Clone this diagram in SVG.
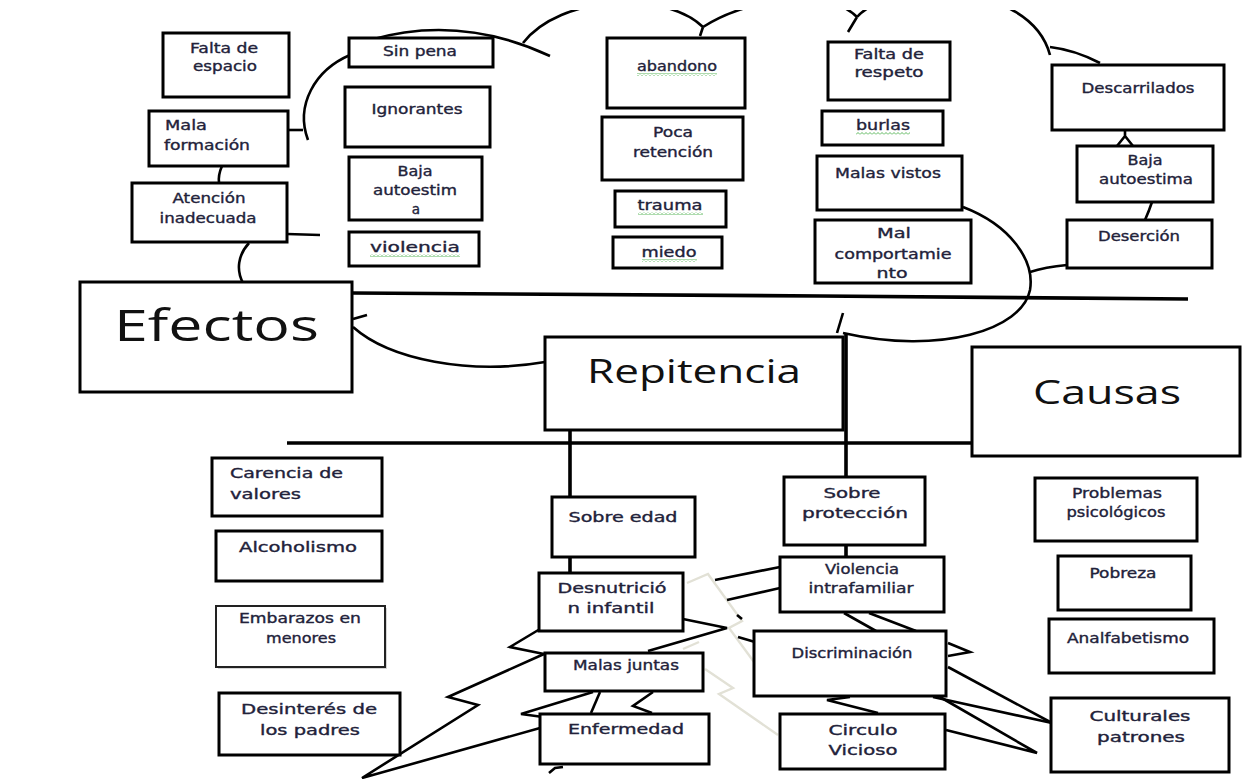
<svg xmlns="http://www.w3.org/2000/svg" width="1244" height="779" viewBox="0 0 1244 779">
<style>
.bx{fill:#fff;stroke:#000;stroke-width:3}
.t{font-family:"DejaVu Sans","Liberation Sans",sans-serif;font-size:13.5px;fill:#22223a;stroke:#22223a;stroke-width:0.35;text-anchor:middle}
.tl{text-anchor:start}
.big{font-family:"Open Sans","Liberation Sans",sans-serif;fill:#111;text-anchor:start}
.ln{fill:none;stroke:#000;stroke-width:2.6;stroke-linejoin:miter}
.hl{fill:none;stroke:#000;stroke-width:3.6}
.pl{fill:none;stroke:#e2e1d6;stroke-width:2.4}
.sq{fill:url(#squig)}
</style>
<defs>
<clipPath id="topclip"><rect x="0" y="10" width="1244" height="769"/></clipPath>
<pattern id="squig" patternUnits="userSpaceOnUse" width="4" height="3">
<path d="M0,2.5 L2,0.5 L4,2.5" fill="none" stroke="#4bb04b" stroke-width="0.9"/>
</pattern>
</defs>
<rect width="1244" height="779" fill="#fff"/>
<g id="connectors">
<g id="cloud" clip-path="url(#topclip)">
<path class="ln" d="M350,55 C315,70 295,105 308,140"/>
<path class="ln" d="M288,130 L303,130"/>
<path class="ln" d="M370,40 Q460,14 550,56"/>
<path class="ln" d="M523,43 C560,-5 665,-10 703,27 M700,36 L703,27"/>
<path class="ln" d="M703,27 C745,0 825,-15 857,17 M848,32 L857,17"/>
<path class="ln" d="M857,17 C890,-20 1030,-20 1050,55"/>
<path class="ln" d="M1050,47 Q1075,50 1100,63"/>
<path class="ln" d="M1117,146 L1125,136 L1133,146 M1125,136 L1125,130"/>
<path class="ln" d="M1152,202 Q1149,211 1145,220"/>
<path class="ln" d="M1067,265 Q1045,267 1030,272"/>
<path class="ln" d="M963,207 C1010,225 1035,260 1030,290 C1022,330 940,355 843,333"/>
<path class="ln" d="M837,333 L843,313"/>
<path class="ln" d="M353,327 C390,360 470,375 545,362"/>
<path class="ln" d="M353,319 L367,315"/>
<path class="ln" d="M249,243 C238,255 236,270 243,283"/>
<path class="ln" d="M222,166 Q218,175 219,183"/>
<path class="ln" d="M287,234 L320,235"/>
</g>
<path class="hl" d="M352,293 L820,296 L1188,299"/>
<path class="hl" d="M287,443 L972,443" stroke-width="4"/>
<path class="hl" d="M846,334 L846,478 M570,430 L570,497 M570,557 L570,573 M846,545 L846,557"/>
<g id="bolt-pale">
<path class="pl" d="M687,583 L708,574 L742,621 L729,628 L754,662"/>
<path class="pl" d="M683,649 L699,642"/>
<path class="pl" d="M705,669 L733,688 L719,694 L778,735"/>
</g>
<g id="bolt-dark">
<path class="ln" d="M540,629 L510,647 L544,654"/>
<path class="ln" d="M544,654 L448,697 L478,705 L362,778 L540,728"/>
<path class="ln" d="M593,692 L521,714 L543,717"/>
<path class="ln" d="M600,692 L591,713"/>
<path class="ln" d="M653,692 L633,706 L652,713"/>
<path class="ln" d="M549,773 L555,768 L563,767"/>
<path class="ln" d="M683,619 L727,628 L648,651"/>
<path class="ln" d="M738,637 L755,642"/>
<path class="ln" d="M715,580 L780,567"/>
<path class="ln" d="M727,600 L780,588"/>
<path class="ln" d="M737,615 L742,619"/>
<path class="ln" d="M844,613 L876,631 M869,613 L916,631"/>
<path class="ln" d="M948,643 L970,652 L948,656"/>
<path class="ln" d="M948,667 L1052,723"/>
<path class="ln" d="M933,697 L1052,723"/>
<path class="ln" d="M940,697 L1037,753 L946,730"/>
<path class="ln" d="M878,713 L827,700 L850,697"/>
</g>
</g>

<g id="n-efectos"><rect class="bx" x="80" y="282" width="272" height="110"/><text class="big" x="114" y="341" font-size="44" textLength="205" lengthAdjust="spacingAndGlyphs">Efectos</text></g>
<g id="n-repitencia"><rect class="bx" x="545" y="337" width="298" height="93"/><text class="big" x="587" y="383" font-size="32" textLength="214" lengthAdjust="spacingAndGlyphs">Repitencia</text></g>
<g id="n-causas"><rect class="bx" x="972" y="347" width="268" height="109"/><text class="big" x="1033" y="404" font-size="32" textLength="148" lengthAdjust="spacingAndGlyphs">Causas</text></g>

<g id="n-falta-espacio"><rect class="bx" x="163" y="33" width="126" height="64"/><text class="t" x="224" y="53" textLength="68" lengthAdjust="spacingAndGlyphs">Falta de</text><text class="t" x="225" y="71" textLength="64" lengthAdjust="spacingAndGlyphs">espacio</text></g>
<g id="n-mala-formacion"><rect class="bx" x="149" y="111" width="139" height="55"/><text class="t tl" x="165" y="130" textLength="42" lengthAdjust="spacingAndGlyphs">Mala</text><text class="t tl" x="164" y="150" textLength="86" lengthAdjust="spacingAndGlyphs">formación</text></g>
<g id="n-atencion"><rect class="bx" x="132" y="183" width="155" height="59"/><text class="t" x="209" y="203" textLength="73" lengthAdjust="spacingAndGlyphs">Atención</text><text class="t" x="208" y="223" textLength="97" lengthAdjust="spacingAndGlyphs">inadecuada</text></g>
<g id="n-sin-pena"><rect class="bx" x="349" y="38" width="144" height="29"/><text class="t" x="420" y="56" textLength="74" lengthAdjust="spacingAndGlyphs">Sin pena</text></g>
<g id="n-ignorantes"><rect class="bx" x="345" y="87" width="145" height="60"/><text class="t" x="417" y="114" textLength="91" lengthAdjust="spacingAndGlyphs">Ignorantes</text></g>
<g id="n-baja-autoestima-1"><rect class="bx" x="349" y="157" width="133" height="63"/><text class="t" x="415" y="176" textLength="35" lengthAdjust="spacingAndGlyphs">Baja</text><text class="t" x="415" y="195" textLength="84" lengthAdjust="spacingAndGlyphs">autoestim</text><text class="t" x="416" y="214">a</text></g>
<g id="n-violencia"><rect class="bx" x="349" y="232" width="130" height="34"/><text class="t" x="415" y="252" textLength="90" lengthAdjust="spacingAndGlyphs">violencia</text><rect class="sq" x="370" y="254" width="90" height="3"/></g>
<g id="n-abandono"><rect class="bx" x="607" y="38" width="138" height="70"/><text class="t" x="677" y="71" textLength="80" lengthAdjust="spacingAndGlyphs">abandono</text><rect class="sq" x="637" y="73" width="80" height="3"/></g>
<g id="n-poca-retencion"><rect class="bx" x="602" y="117" width="141" height="63"/><text class="t" x="673" y="137" textLength="40" lengthAdjust="spacingAndGlyphs">Poca</text><text class="t" x="673" y="157" textLength="80" lengthAdjust="spacingAndGlyphs">retención</text></g>
<g id="n-trauma"><rect class="bx" x="615" y="191" width="111" height="36"/><text class="t" x="670" y="210" textLength="65" lengthAdjust="spacingAndGlyphs">trauma</text><rect class="sq" x="638" y="212" width="65" height="3"/></g>
<g id="n-miedo"><rect class="bx" x="613" y="237" width="109" height="31"/><text class="t" x="669" y="257" textLength="55" lengthAdjust="spacingAndGlyphs">miedo</text><rect class="sq" x="642" y="259" width="55" height="3"/></g>
<g id="n-falta-respeto"><rect class="bx" x="828" y="42" width="122" height="58"/><text class="t" x="889" y="59" textLength="70" lengthAdjust="spacingAndGlyphs">Falta de</text><text class="t" x="889" y="77" textLength="69" lengthAdjust="spacingAndGlyphs">respeto</text></g>
<g id="n-burlas"><rect class="bx" x="822" y="111" width="121" height="34"/><text class="t" x="883" y="130" textLength="54" lengthAdjust="spacingAndGlyphs">burlas</text><rect class="sq" x="856" y="132" width="54" height="3"/></g>
<g id="n-malas-vistos"><rect class="bx" x="817" y="156" width="145" height="54"/><text class="t" x="888" y="178" textLength="106" lengthAdjust="spacingAndGlyphs">Malas vistos</text></g>
<g id="n-mal-comportamiento"><rect class="bx" x="815" y="220" width="156" height="63"/><text class="t" x="894" y="238" textLength="34" lengthAdjust="spacingAndGlyphs">Mal</text><text class="t" x="893" y="259" textLength="117" lengthAdjust="spacingAndGlyphs">comportamie</text><text class="t" x="892" y="278" textLength="31" lengthAdjust="spacingAndGlyphs">nto</text></g>
<g id="n-descarrilados"><rect class="bx" x="1052" y="65" width="172" height="65"/><text class="t" x="1138" y="93" textLength="113" lengthAdjust="spacingAndGlyphs">Descarrilados</text></g>
<g id="n-baja-autoestima-2"><rect class="bx" x="1077" y="146" width="136" height="56"/><text class="t" x="1145" y="165" textLength="35" lengthAdjust="spacingAndGlyphs">Baja</text><text class="t" x="1146" y="184" textLength="94" lengthAdjust="spacingAndGlyphs">autoestima</text></g>
<g id="n-desercion"><rect class="bx" x="1067" y="220" width="145" height="48"/><text class="t" x="1139" y="241" textLength="82" lengthAdjust="spacingAndGlyphs">Deserción</text></g>

<g id="n-carencia"><rect class="bx" x="212" y="458" width="170" height="58"/><text class="t tl" x="230" y="478" textLength="113" lengthAdjust="spacingAndGlyphs">Carencia de</text><text class="t tl" x="230" y="499" textLength="71" lengthAdjust="spacingAndGlyphs">valores</text></g>
<g id="n-alcoholismo"><rect class="bx" x="216" y="531" width="166" height="50"/><text class="t" x="298" y="552" textLength="118" lengthAdjust="spacingAndGlyphs">Alcoholismo</text></g>
<g id="n-embarazos"><rect x="218" y="608" width="169" height="61" fill="#bbb" opacity="0.6"/><rect x="216" y="606" width="169" height="61" fill="#fff" stroke="#222" stroke-width="2"/><text class="t" x="300" y="623" font-size="12.5" textLength="122" lengthAdjust="spacingAndGlyphs">Embarazos en</text><text class="t" x="301" y="643" font-size="12.5" textLength="70" lengthAdjust="spacingAndGlyphs">menores</text></g>
<g id="n-desinteres"><rect class="bx" x="219" y="693" width="181" height="62"/><text class="t" x="309" y="714" textLength="136" lengthAdjust="spacingAndGlyphs">Desinterés de</text><text class="t" x="310" y="735" textLength="100" lengthAdjust="spacingAndGlyphs">los padres</text></g>
<g id="n-sobre-edad"><rect class="bx" x="552" y="497" width="143" height="60"/><text class="t" x="623" y="522" textLength="109" lengthAdjust="spacingAndGlyphs">Sobre edad</text></g>
<g id="n-desnutricion"><rect class="bx" x="539" y="573" width="144" height="58"/><text class="t" x="612" y="593" textLength="109" lengthAdjust="spacingAndGlyphs">Desnutrició</text><text class="t" x="611" y="613" textLength="87" lengthAdjust="spacingAndGlyphs">n infantil</text></g>
<g id="n-malas-juntas"><rect class="bx" x="545" y="653" width="158" height="38"/><text class="t" x="626" y="670" textLength="106" lengthAdjust="spacingAndGlyphs">Malas juntas</text></g>
<g id="n-enfermedad"><rect class="bx" x="540" y="714" width="169" height="50"/><text class="t" x="626" y="734" textLength="116" lengthAdjust="spacingAndGlyphs">Enfermedad</text></g>
<g id="n-sobre-proteccion"><rect class="bx" x="784" y="477" width="141" height="68"/><text class="t" x="852" y="498" textLength="57" lengthAdjust="spacingAndGlyphs">Sobre</text><text class="t" x="855" y="518" textLength="106" lengthAdjust="spacingAndGlyphs">protección</text></g>
<g id="n-violencia-intrafamiliar"><rect class="bx" x="780" y="557" width="164" height="55"/><text class="t" x="862" y="574" textLength="74" lengthAdjust="spacingAndGlyphs">Violencia</text><text class="t" x="861" y="593" textLength="105" lengthAdjust="spacingAndGlyphs">intrafamiliar</text></g>
<g id="n-discriminacion"><rect class="bx" x="754" y="631" width="192" height="65"/><text class="t" x="852" y="658" textLength="121" lengthAdjust="spacingAndGlyphs">Discriminación</text></g>
<g id="n-circulo-vicioso"><rect class="bx" x="780" y="714" width="165" height="55"/><text class="t" x="863" y="735" textLength="69" lengthAdjust="spacingAndGlyphs">Circulo</text><text class="t" x="863" y="755" textLength="69" lengthAdjust="spacingAndGlyphs">Vicioso</text></g>
<g id="n-problemas"><rect class="bx" x="1035" y="478" width="162" height="63"/><text class="t" x="1117" y="498" textLength="90" lengthAdjust="spacingAndGlyphs">Problemas</text><text class="t" x="1116" y="517" textLength="99" lengthAdjust="spacingAndGlyphs">psicológicos</text></g>
<g id="n-pobreza"><rect class="bx" x="1058" y="556" width="133" height="54"/><text class="t" x="1123" y="578" textLength="67" lengthAdjust="spacingAndGlyphs">Pobreza</text></g>
<g id="n-analfabetismo"><rect class="bx" x="1049" y="619" width="165" height="54"/><text class="t" x="1128" y="643" textLength="122" lengthAdjust="spacingAndGlyphs">Analfabetismo</text></g>
<g id="n-culturales"><rect class="bx" x="1051" y="698" width="178" height="74"/><text class="t" x="1140" y="721" textLength="101" lengthAdjust="spacingAndGlyphs">Culturales</text><text class="t" x="1141" y="742" textLength="88" lengthAdjust="spacingAndGlyphs">patrones</text></g>
</svg>
